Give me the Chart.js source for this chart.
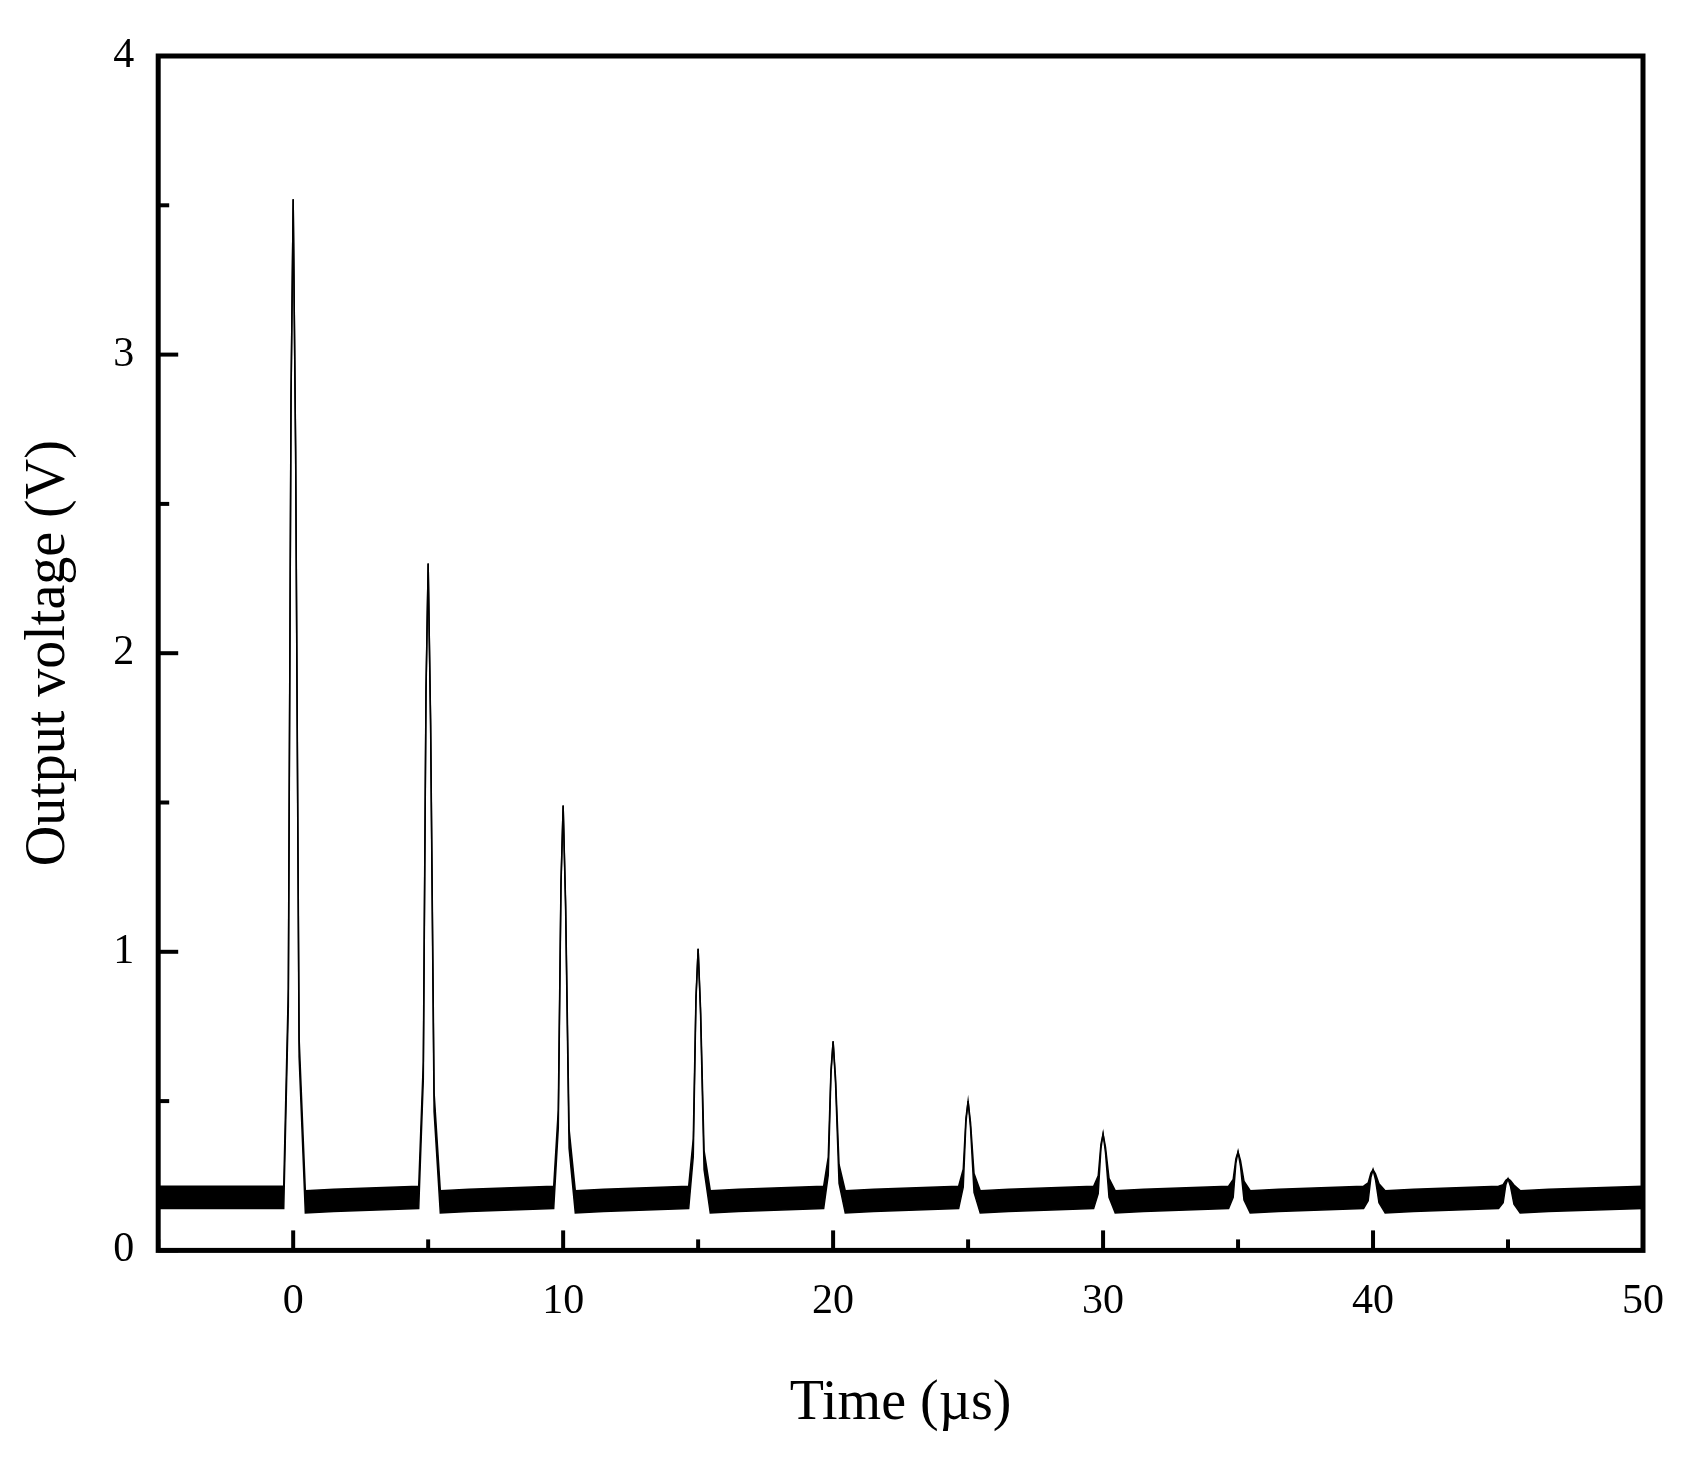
<!DOCTYPE html>
<html>
<head>
<meta charset="utf-8">
<script src="https://cdn.jsdelivr.net/npm/chart.js@4/dist/chart.umd.min.js"></script>
<style>
  html, body { margin: 0; background: #fff; }
  #wrap { width: 1708px; height: 1460px; }
</style>
</head>
<body>
<div id="wrap"><canvas id="chart"></canvas></div>
<script>
// peak positions (µs) and heights (V)
var peakTimes = [0, 5, 10, 15, 20, 25, 30, 35, 40, 45];
var peakHeights = [3.52, 2.30, 1.49, 1.01, 0.70, 0.50, 0.39, 0.33, 0.27, 0.24];
// noise band of the baseline
var bandTop = 0.215;
var bandBottom = 0.14;
var xTicks = [-5, 0, 5, 10, 15, 20, 25, 30, 35, 40, 45, 50];
var yTicks = [0, 0.5, 1, 1.5, 2, 2.5, 3, 3.5, 4];

function buildTrace(base) {
    var pts = [{ x: -5, y: base }];
    for (var i = 0; i < peakTimes.length; i++) {
        var t = peakTimes[i], h = peakHeights[i];
        pts.push({ x: t - 0.35, y: base });
        pts.push({ x: t - 0.18, y: base + (h - base) * 0.2 });
        pts.push({ x: t - 0.08, y: base + (h - base) * 0.8 });
        pts.push({ x: t, y: h });
        pts.push({ x: t + 0.09, y: base + (h - base) * 0.75 });
        pts.push({ x: t + 0.22, y: base + (h - base) * 0.15 });
        pts.push({ x: t + 0.45, y: base - 0.015 });
        pts.push({ x: t + 1.5, y: base - 0.01 });
    }
    pts.push({ x: 50, y: base });
    return pts;
}

var inwardTicks = {
    id: 'inwardTicks',
    afterDraw: function (chart) {
        var ctx = chart.ctx, a = chart.chartArea;
        var xs = chart.scales.x, ys = chart.scales.y;
        ctx.save();
        ctx.strokeStyle = '#000';
        ctx.lineWidth = 5;
        ctx.strokeRect(a.left, a.top, a.right - a.left, a.bottom - a.top);
        ctx.lineWidth = 4;
        xTicks.forEach(function (v) {
            var p = xs.getPixelForValue(v);
            var len = v % 10 === 0 ? 20 : 11;
            ctx.beginPath(); ctx.moveTo(p, a.bottom); ctx.lineTo(p, a.bottom - len); ctx.stroke();
        });
        yTicks.forEach(function (v) {
            var p = ys.getPixelForValue(v);
            var len = v % 1 === 0 ? 20 : 11;
            ctx.beginPath(); ctx.moveTo(a.left, p); ctx.lineTo(a.left + len, p); ctx.stroke();
        });
        ctx.restore();
    }
};

var ctx = document.getElementById('chart').getContext('2d');
var chart = new Chart(ctx, {
    type: 'line',
    data: {
        datasets: [{
            data: buildTrace(bandTop),
            borderColor: '#000',
            borderWidth: 1.5,
            pointRadius: 0,
            fill: false
        }, {
            data: buildTrace(bandBottom),
            borderColor: '#000',
            borderWidth: 1.5,
            backgroundColor: '#000',
            pointRadius: 0,
            fill: '-1'
        }]
    },
    options: {
        responsive: true,
        maintainAspectRatio: false,
        animation: false,
        layout: { padding: { top: 56, right: 65, left: 12, bottom: 18 } },
        plugins: { legend: { display: false }, tooltip: { enabled: false } },
        scales: {
            x: {
                type: 'linear', min: -5, max: 50,
                grid: { display: false },
                border: { display: false },
                afterBuildTicks: function (s) { s.ticks = xTicks.map(function (v) { return { value: v }; }); },
                ticks: {
                    autoSkip: false, maxRotation: 0, padding: 18,
                    color: '#000',
                    font: { family: 'Liberation Serif', size: 42 },
                    callback: function (v) { return v % 10 === 0 ? v : ''; }
                },
                title: {
                    display: true, text: 'Time (µs)', color: '#000',
                    font: { family: 'Liberation Serif', size: 56 },
                    padding: { top: 26 }
                }
            },
            y: {
                min: 0, max: 4,
                grid: { display: false },
                border: { display: false },
                afterBuildTicks: function (s) { s.ticks = yTicks.map(function (v) { return { value: v }; }); },
                ticks: {
                    autoSkip: false, padding: 16,
                    color: '#000',
                    font: { family: 'Liberation Serif', size: 42 },
                    callback: function (v) { return v % 1 === 0 ? v : ''; }
                },
                title: {
                    display: true, text: 'Output voltage (V)', color: '#000',
                    font: { family: 'Liberation Serif', size: 56 },
                    padding: { bottom: 14 }
                }
            }
        }
    },
    plugins: [inwardTicks]
});
</script>
</body>
</html>
